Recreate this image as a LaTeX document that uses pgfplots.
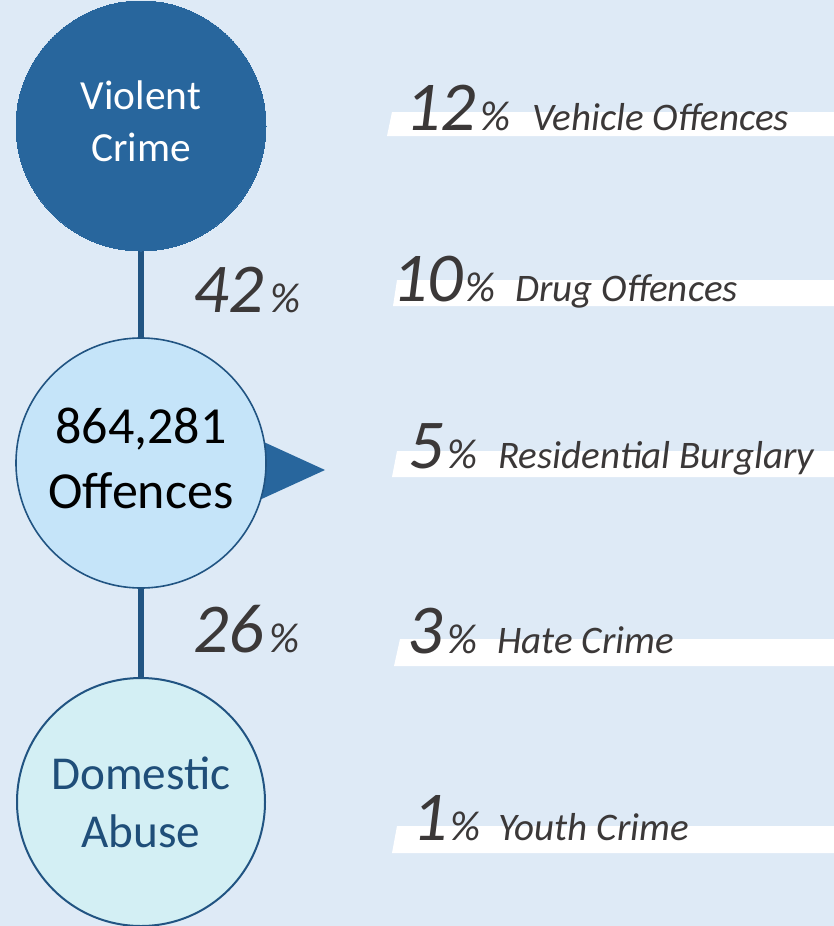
\documentclass[border=0pt]{standalone}
\usepackage{fontspec}
\setmainfont{Carlito}
\usepackage{pgfplots}
\pgfplotsset{compat=1.18}
\definecolor{bg}{RGB}{222,234,246}
\definecolor{darkblue}{RGB}{40,102,157}
\definecolor{linecol}{RGB}{33,84,130}
\definecolor{midfill}{RGB}{197,228,249}
\definecolor{lowfill}{RGB}{211,239,244}
\definecolor{txt}{RGB}{59,56,56}
\definecolor{domtxt}{RGB}{31,78,121}
\newcommand{\numfont}{\fontsize{35}{35}\selectfont\itshape}
\newcommand{\pcfont}{\fontsize{21}{21}\selectfont\itshape}
\newcommand{\labfont}{\fontsize{19.5}{19.5}\selectfont\itshape}
\pgfplotsset{canvas/.style={
  scale only axis, width=417pt, height=463pt,
  xmin=0, xmax=834, ymin=0, ymax=926, y dir=reverse,
  hide axis, clip=false}}
\begin{document}
\begin{tikzpicture}
\begin{axis}[canvas]
% background
\addplot[fill=bg, draw=none] coordinates {(0,0)(834,0)(834,926)(0,926)} --cycle;
% white bars (parallelograms)
\addplot[fill=white, draw=none] coordinates {(392,112)(834,112)(834,136)(387,136)} --cycle;
\addplot[fill=white, draw=none] coordinates {(397,280)(834,280)(834,306)(393,306)} --cycle;
\addplot[fill=white, draw=none] coordinates {(397,451)(834,451)(834,477)(392,477)} --cycle;
\addplot[fill=white, draw=none] coordinates {(400,639)(834,639)(834,666)(394,666)} --cycle;
\addplot[fill=white, draw=none] coordinates {(397,826)(834,826)(834,853)(392,853)} --cycle;
% connector lines
\addplot[linecol, line width=3pt] coordinates {(141,240)(141,345)};
\addplot[linecol, line width=3pt] coordinates {(141,580)(141,690)};
% pointer triangle
\addplot[fill=darkblue, draw=none] coordinates {(255,438)(325,470)(255,502)} --cycle;
% circles
\addplot[only marks, mark=*, mark size=62.5pt, mark options={fill=darkblue, draw=darkblue, line width=0pt}] coordinates {(141,126)};
\addplot[only marks, mark=*, mark size=62.5pt, mark options={fill=midfill, draw=linecol, line width=0.8pt}] coordinates {(141,463)};
\addplot[only marks, mark=*, mark size=62pt, mark options={fill=lowfill, draw=linecol, line width=1pt}] coordinates {(141,802)};
\end{axis}
\begin{axis}[canvas]
% circle texts
\node[anchor=base, white, inner sep=0, font=\fontsize{20.7}{20.7}\selectfont] at (axis cs:141,110) {Violent};
\node[anchor=base, white, inner sep=0, font=\fontsize{20.7}{20.7}\selectfont] at (axis cs:141,162) {Crime};
\node[anchor=base, black, inner sep=0, font=\fontsize{26}{26}\selectfont] at (axis cs:141,443) {864,281};
\node[anchor=base, black, inner sep=0, font=\fontsize{26}{26}\selectfont] at (axis cs:141,508) {Offences};
\node[anchor=base, domtxt, inner sep=0, font=\fontsize{23.6}{23.6}\selectfont] at (axis cs:141,789) {Domestic};
\node[anchor=base, domtxt, inner sep=0, font=\fontsize{23.6}{23.6}\selectfont] at (axis cs:141,847) {Abuse};
% link percentages
\node[anchor=base west, txt, inner sep=0, font=\numfont] at (axis cs:193,312) {42};
\node[anchor=base west, txt, inner sep=0, font=\pcfont] at (axis cs:270,312) {\%};
\node[anchor=base west, txt, inner sep=0, font=\numfont] at (axis cs:193,652) {26};
\node[anchor=base west, txt, inner sep=0, font=\pcfont] at (axis cs:269,652) {\%};
% right list
\node[anchor=base west, txt, inner sep=0, font=\numfont] at (axis cs:405,131) {12};
\node[anchor=base west, txt, inner sep=0, font=\pcfont] at (axis cs:480,131) {\%};
\node[anchor=base west, txt, inner sep=0, font=\labfont] at (axis cs:532,131) {Vehicle Offences};
\node[anchor=base west, txt, inner sep=0, font=\numfont] at (axis cs:392,301) {10};
\node[anchor=base west, txt, inner sep=0, font=\pcfont] at (axis cs:465,301) {\%};
\node[anchor=base west, txt, inner sep=0, font=\labfont] at (axis cs:515,301) {Drug Offences};
\node[anchor=base west, txt, inner sep=0, font=\numfont] at (axis cs:408,468) {5};
\node[anchor=base west, txt, inner sep=0, font=\pcfont] at (axis cs:447,468) {\%};
\node[anchor=base west, txt, inner sep=0, font=\labfont] at (axis cs:498,468) {Residential Burglary};
\node[anchor=base west, txt, inner sep=0, font=\numfont] at (axis cs:407,653) {3};
\node[anchor=base west, txt, inner sep=0, font=\pcfont] at (axis cs:447,653) {\%};
\node[anchor=base west, txt, inner sep=0, font=\labfont] at (axis cs:497,653) {Hate Crime};
\node[anchor=base west, txt, inner sep=0, font=\numfont] at (axis cs:412,840) {1};
\node[anchor=base west, txt, inner sep=0, font=\pcfont] at (axis cs:450,840) {\%};
\node[anchor=base west, txt, inner sep=0, font=\labfont] at (axis cs:498,840) {Youth Crime};
\end{axis}
\end{tikzpicture}
\end{document}
